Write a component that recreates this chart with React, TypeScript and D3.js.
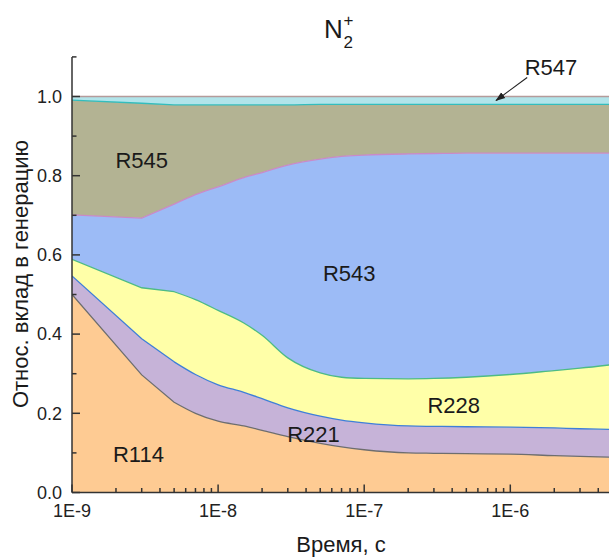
import React from "react";
import * as d3 from "d3";

// Time points (s) and the relative contribution of each reaction channel
const times = [1e-9, 3e-9, 5e-9, 7e-9, 1e-8, 1.5e-8, 2e-8, 3e-8, 5e-8, 7e-8, 1e-7, 2e-7, 3e-7, 5e-7, 1e-6, 2e-6, 3e-6, 5e-6];
const r114 = [0.500, 0.297, 0.228, 0.200, 0.180, 0.168, 0.157, 0.141, 0.124, 0.115, 0.108, 0.100, 0.099, 0.098, 0.097, 0.093, 0.091, 0.089];
const r221 = [0.047, 0.091, 0.102, 0.098, 0.092, 0.085, 0.080, 0.073, 0.069, 0.068, 0.068, 0.068, 0.068, 0.068, 0.068, 0.070, 0.070, 0.070];
const r228 = [0.042, 0.129, 0.177, 0.189, 0.188, 0.175, 0.160, 0.126, 0.109, 0.108, 0.112, 0.119, 0.121, 0.125, 0.133, 0.145, 0.153, 0.164];
const r543 = [0.112, 0.176, 0.221, 0.265, 0.312, 0.367, 0.411, 0.487, 0.540, 0.558, 0.564, 0.568, 0.568, 0.566, 0.559, 0.549, 0.543, 0.534];
const r545 = [0.290, 0.290, 0.251, 0.227, 0.207, 0.184, 0.171, 0.152, 0.138, 0.131, 0.128, 0.125, 0.124, 0.123, 0.123, 0.123, 0.123, 0.123];
const r547 = [0.009, 0.017, 0.021, 0.021, 0.021, 0.021, 0.021, 0.021, 0.020, 0.020, 0.020, 0.020, 0.020, 0.020, 0.020, 0.020, 0.020, 0.020];

const seriesKeys = ["R114", "R221", "R228", "R543", "R545", "R547"];
const seriesValues = [r114, r221, r228, r543, r545, r547];
const fills = ["#FECB93", "#C6B3D8", "#FFFFA8", "#9CBBF6", "#B3B393", "#B1E4EA"];
const edges = ["#6E6E6E", "#3F7FD8", "#4DBB85", "#C98AC8", "#33BDBD", "#B59B9B"];

// Label anchors in data coordinates [time, fraction]
const labelNames = ["R114", "R221", "R228", "R543", "R545"];
const labelTimes = [2.85e-9, 4.5e-8, 4.1e-7, 7.9e-8, 3.0e-9];
const labelFracs = [0.077, 0.128, 0.201, 0.534, 0.819];

const yTickValues = [0, 0.2, 0.4, 0.6, 0.8, 1.0];
const yTickLabels = ["0.0", "0.2", "0.4", "0.6", "0.8", "1.0"];
const yMinorValues = [0.1, 0.3, 0.5, 0.7, 0.9, 1.1];
const xTickValues = [1e-9, 1e-8, 1e-7, 1e-6, 1e-5];
const xTickLabels = ["1E-9", "1E-8", "1E-7", "1E-6", "1E-5"];

// Early points are joined by straight segments, later ones by a smooth curve
const SMOOTH_FROM = 2;

const W = 609;
const H = 557;
const FONT = "Arial, 'Liberation Sans', Helvetica, sans-serif";

export default function App() {
  const x = d3.scaleLog().domain([1e-9, 1e-5]).range([72, 72 + 4 * 146.1]);
  const y = d3.scaleLinear().domain([0, 1.1]).range([492.5, 56.9]);

  const rows = times.map((t, i) => {
    const row: Record<string, number> = { t };
    seriesKeys.forEach((k, j) => (row[k] = seriesValues[j][i]));
    return row;
  });
  const stacked = d3.stack<Record<string, number>>().keys(seriesKeys)(rows);

  const makeArea = (curve: d3.CurveFactory) =>
    d3
      .area<any>()
      .x((d) => x(d.data.t))
      .y0((d) => y(d[0]))
      .y1((d) => y(d[1]))
      .curve(curve);
  const makeLine = (curve: d3.CurveFactory) =>
    d3
      .line<any>()
      .x((d) => x(d.data.t))
      .y((d) => y(d[1]))
      .curve(curve);

  const areaPath = (s: any[]) =>
    (makeArea(d3.curveLinear)(s.slice(0, SMOOTH_FROM + 1)) || "") +
    (makeArea(d3.curveMonotoneX)(s.slice(SMOOTH_FROM)) || "");
  const linePath = (s: any[]) => {
    const a = makeLine(d3.curveLinear)(s.slice(0, SMOOTH_FROM + 1)) || "";
    const b = makeLine(d3.curveMonotoneX)(s.slice(SMOOTH_FROM)) || "";
    return a + "L" + b.slice(1);
  };

  const minorX: number[] = [];
  for (let e = -9; e < -5; e++) {
    for (let m = 2; m <= 9; m++) minorX.push(m * Math.pow(10, e));
  }

  const x0 = x(1e-9);
  const yBase = y(0);

  // R547 pointer: tip inside the thin top band
  const tipX = x(8e-7);
  const tipY = y(0.99);

  return (
    <svg
      width={W}
      height={H}
      style={{ position: "absolute", left: 0, top: 0, background: "#fff" }}
      fontFamily={FONT}
    >
      <defs>
        <clipPath id="plot">
          <rect x={x0} y={0} width={W - x0} height={yBase} />
        </clipPath>
        <marker id="arrowhead" viewBox="0 0 10 10" refX="9" refY="5" markerWidth="9" markerHeight="9" orient="auto">
          <path d="M0,1.5 L10,5 L0,8.5 Z" fill="#222" />
        </marker>
      </defs>

      <g clipPath="url(#plot)">
        {stacked.map((s, i) => (
          <path key={"a" + i} d={areaPath(s as any)} fill={fills[i]} stroke="none" />
        ))}
        {stacked.map((s, i) => (
          <path key={"l" + i} d={linePath(s as any)} fill="none" stroke={edges[i]} strokeWidth={1.3} />
        ))}
      </g>

      {/* Axes */}
      <line x1={x0} x2={x0} y1={y(1.1)} y2={yBase} stroke="#333" strokeWidth={1.5} />
      <line x1={x0} x2={W} y1={yBase} y2={yBase} stroke="#333" strokeWidth={1.5} />

      {yTickValues.map((v, i) => (
        <g key={"yt" + i}>
          <line x1={x0} x2={x0 + 8} y1={y(v)} y2={y(v)} stroke="#333" strokeWidth={1.5} />
          <text x={x0 - 10} y={y(v)} dy="0.35em" textAnchor="end" fontSize={18} fill="#222">
            {yTickLabels[i]}
          </text>
        </g>
      ))}
      {yMinorValues.map((v, i) => (
        <line key={"ym" + i} x1={x0} x2={x0 + 4.5} y1={y(v)} y2={y(v)} stroke="#333" strokeWidth={1.5} />
      ))}

      {xTickValues.map((v, i) =>
        x(v) <= W ? (
          <g key={"xt" + i}>
            <line x1={x(v)} x2={x(v)} y1={yBase} y2={yBase - 8} stroke="#333" strokeWidth={1.5} />
            <text x={x(v)} y={yBase + 24.5} textAnchor="middle" fontSize={18} fill="#222">
              {xTickLabels[i]}
            </text>
          </g>
        ) : null
      )}
      {minorX.map((v, i) =>
        x(v) <= W ? (
          <line key={"xm" + i} x1={x(v)} x2={x(v)} y1={yBase} y2={yBase - 4.5} stroke="#333" strokeWidth={1.5} />
        ) : null
      )}

      {/* Channel labels */}
      {labelNames.map((n, i) => (
        <text key={"lb" + i} x={x(labelTimes[i])} y={y(labelFracs[i])} textAnchor="middle" fontSize={22} fill="#1a1a1a">
          {n}
        </text>
      ))}
      <text x={x(1.9e-6)} y={y(1.054)} textAnchor="middle" fontSize={22} fill="#1a1a1a">
        R547
      </text>
      <line
        x1={tipX + 31}
        y1={tipY - 23}
        x2={tipX}
        y2={tipY}
        stroke="#222"
        strokeWidth={1.1}
        markerEnd="url(#arrowhead)"
      />

      {/* Title: N2+ with stacked sub/superscript */}
      <text x={324} y={38} fontSize={26} fill="#1a1a1a">N</text>
      <text x={343.5} y={26} fontSize={17} fill="#1a1a1a">+</text>
      <text x={343.5} y={48} fontSize={17} fill="#1a1a1a">2</text>

      {/* Axis titles */}
      <text x={341} y={552} textAnchor="middle" fontSize={22} fill="#1a1a1a">
        Время, с
      </text>
      <text
        transform={`translate(28,274) rotate(-90)`}
        textAnchor="middle"
        fontSize={22}
        fill="#1a1a1a"
      >
        Относ. вклад в генерацию
      </text>
    </svg>
  );
}
